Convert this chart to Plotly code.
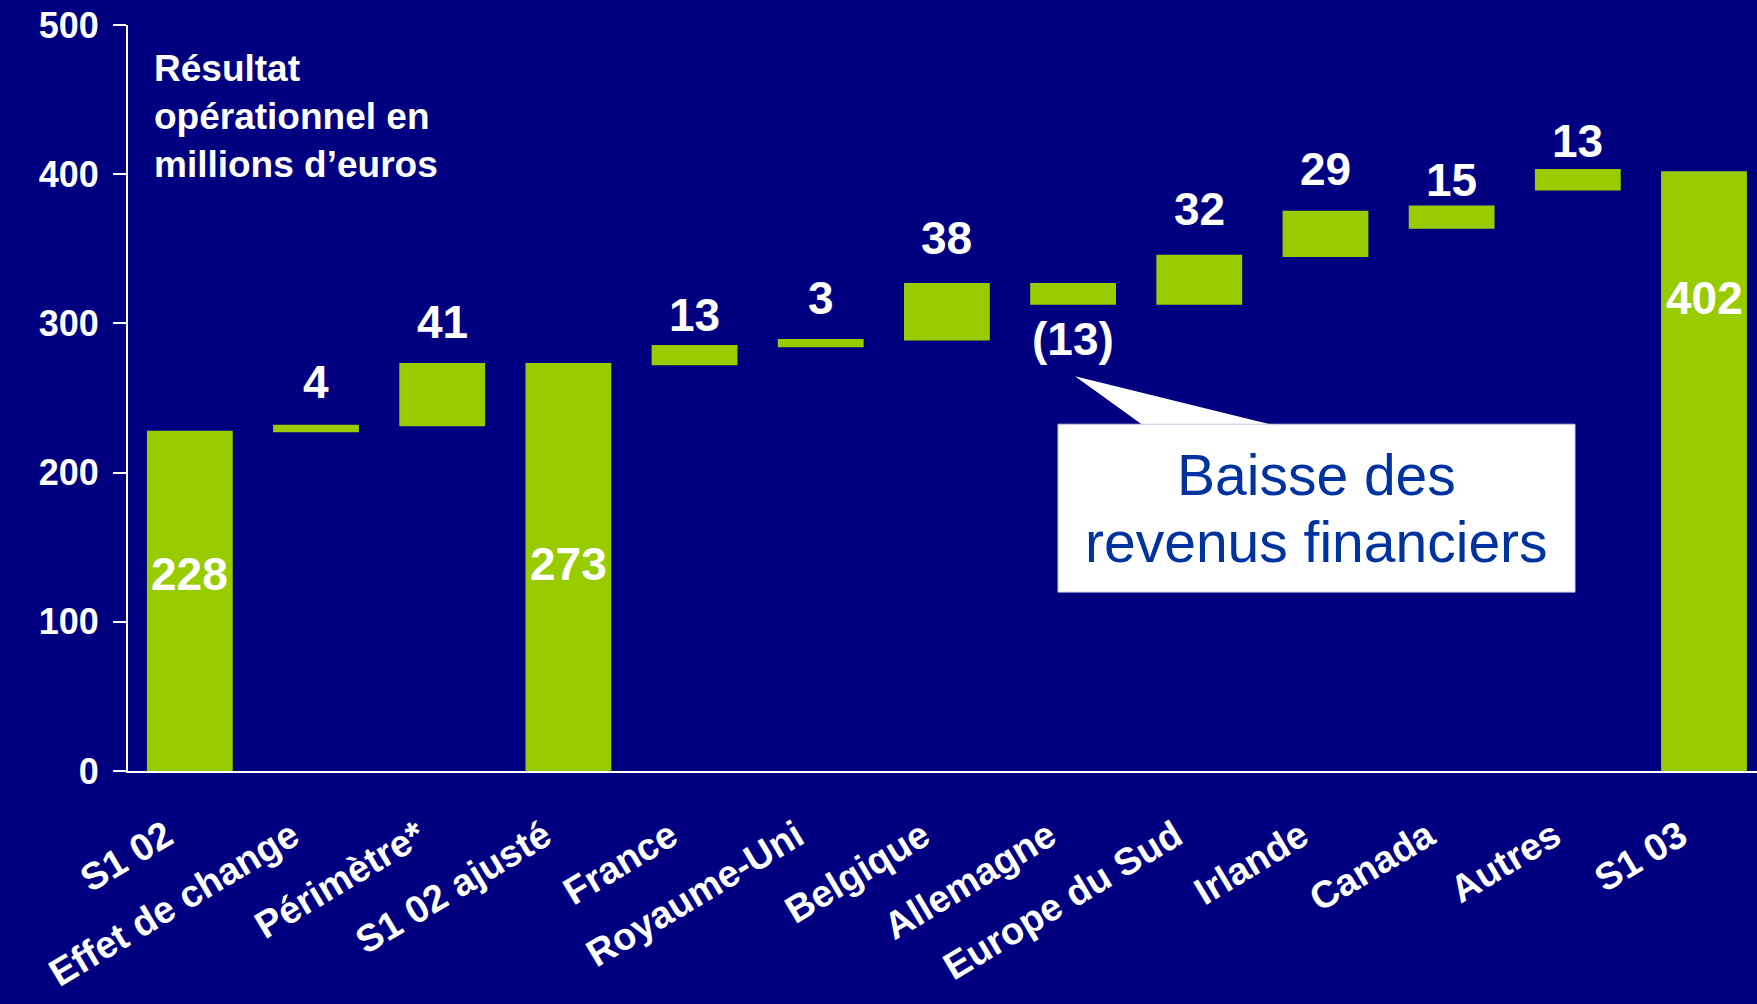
import plotly.graph_objects as go

# ---- data ----
categories = ["S1 02", "Effet de change", "Périmètre*", "S1 02 ajusté", "France",
              "Royaume-Uni", "Belgique", "Allemagne", "Europe du Sud", "Irlande",
              "Canada", "Autres", "S1 03"]
bar_bottom = [0, 227, 231, 0, 272, 284, 288.5, 312.5, 312.5, 344.5, 363.5, 389, 0]
bar_top = [228, 232, 273.5, 273.5, 285.5, 289.5, 327, 327, 346, 375.5, 379, 403.5, 402]
value_labels = ["228", "4", "41", "273", "13", "3", "38", "(13)", "32", "29", "15", "13", "402"]
y_ticks = [0, 100, 200, 300, 400, 500]

# ---- styles ----
BG = "#000080"
GREEN = "#99CC00"
WHITE = "#FFFFFF"
CALLOUT_BLUE = "#0033A0"
FONT = "Liberation Sans, Arial, sans-serif"
label_shift_px = [-143, 43, 41, -201, 30, 41, 45, -34, 46, 41.5, 26, 28, -126.5]

W, H = 1757, 1004
ML, MR, MT, MB = 128, 0, 24.5, 233
PW, PH = W - ML - MR, H - MT - MB


def px2x(px):
    return (px - ML) / PW


def py2y(py):
    return (H - MB - py) / PH


idx = list(range(len(categories)))
heights = [t - b for t, b in zip(bar_top, bar_bottom)]

fig = go.Figure()
fig.add_trace(go.Bar(
    x=idx, y=heights, base=bar_bottom, width=0.68,
    marker=dict(color=GREEN, line=dict(width=0)),
    hoverinfo="skip", showlegend=False,
))

annotations = []
for i, lab in enumerate(value_labels):
    anchor = bar_bottom[i] if lab.startswith("(") else bar_top[i]
    annotations.append(dict(
        x=i, y=anchor, xref="x", yref="y", text=lab, showarrow=False,
        yanchor="middle", xanchor="center", yshift=label_shift_px[i],
        font=dict(family=FONT, size=46, color=WHITE, weight="bold"),
    ))

# axis title block
annotations.append(dict(
    x=px2x(152), y=py2y(46), xref="paper", yref="paper",
    text="Résultat<br>opérationnel en<br>millions d’euros",
    showarrow=False, xanchor="left", yanchor="top", align="left",
    font=dict(family=FONT, size=37, color=WHITE, weight="bold"),
))

# callout text (two lines placed separately for exact spacing)
for line, cy in (("Baisse des", 475), ("revenus financiers", 542)):
    annotations.append(dict(
        x=px2x(1316), y=py2y(cy), xref="paper", yref="paper",
        text=line, showarrow=False, xanchor="center", yanchor="middle",
        font=dict(family=FONT, size=57, color=CALLOUT_BLUE),
    ))

shapes = [
    dict(type="path", xref="paper", yref="paper",
         path=f"M {px2x(1075)} {py2y(376)} L {px2x(1274)} {py2y(425)} L {px2x(1143)} {py2y(425)} Z",
         fillcolor=WHITE, line=dict(width=0), layer="above"),
    dict(type="rect", xref="paper", yref="paper",
         x0=px2x(1058), x1=px2x(1575), y0=py2y(424), y1=py2y(592),
         fillcolor=WHITE, line=dict(color="#C8C8E0", width=1), layer="above"),
]

fig.update_layout(
    width=W, height=H,
    paper_bgcolor=BG, plot_bgcolor=BG,
    margin=dict(l=ML, r=MR, t=MT, b=MB, pad=0, autoexpand=False),
    font=dict(family=FONT, color=WHITE),
    annotations=annotations, shapes=shapes,
    xaxis=dict(
        range=[-0.49, 12.42], tickmode="array", tickvals=idx, ticktext=categories,
        tickangle=-31, showgrid=False, zeroline=False, showline=True,
        linecolor=WHITE, linewidth=2, ticks="", ticklabelstandoff=26,
        ticklabelshift=-24, automargin=False,
        tickfont=dict(family=FONT, size=38, color=WHITE, weight="bold"),
        fixedrange=True,
    ),
    yaxis=dict(
        range=[0, 500], tickmode="array", tickvals=y_ticks,
        showgrid=False, zeroline=False, showline=True, linecolor=WHITE, linewidth=2,
        ticks="outside", ticklen=13, tickwidth=2, tickcolor=WHITE,
        ticklabelstandoff=7, automargin=False,
        tickfont=dict(family=FONT, size=36, color=WHITE, weight="bold"),
        fixedrange=True,
    ),
)

fig.write_html(
    "out.html",
    config={"displayModeBar": False},
    post_script=("document.body.style.margin='0';"
                 "document.body.style.overflow='hidden';"
                 "document.body.style.background='" + BG + "';"),
)
